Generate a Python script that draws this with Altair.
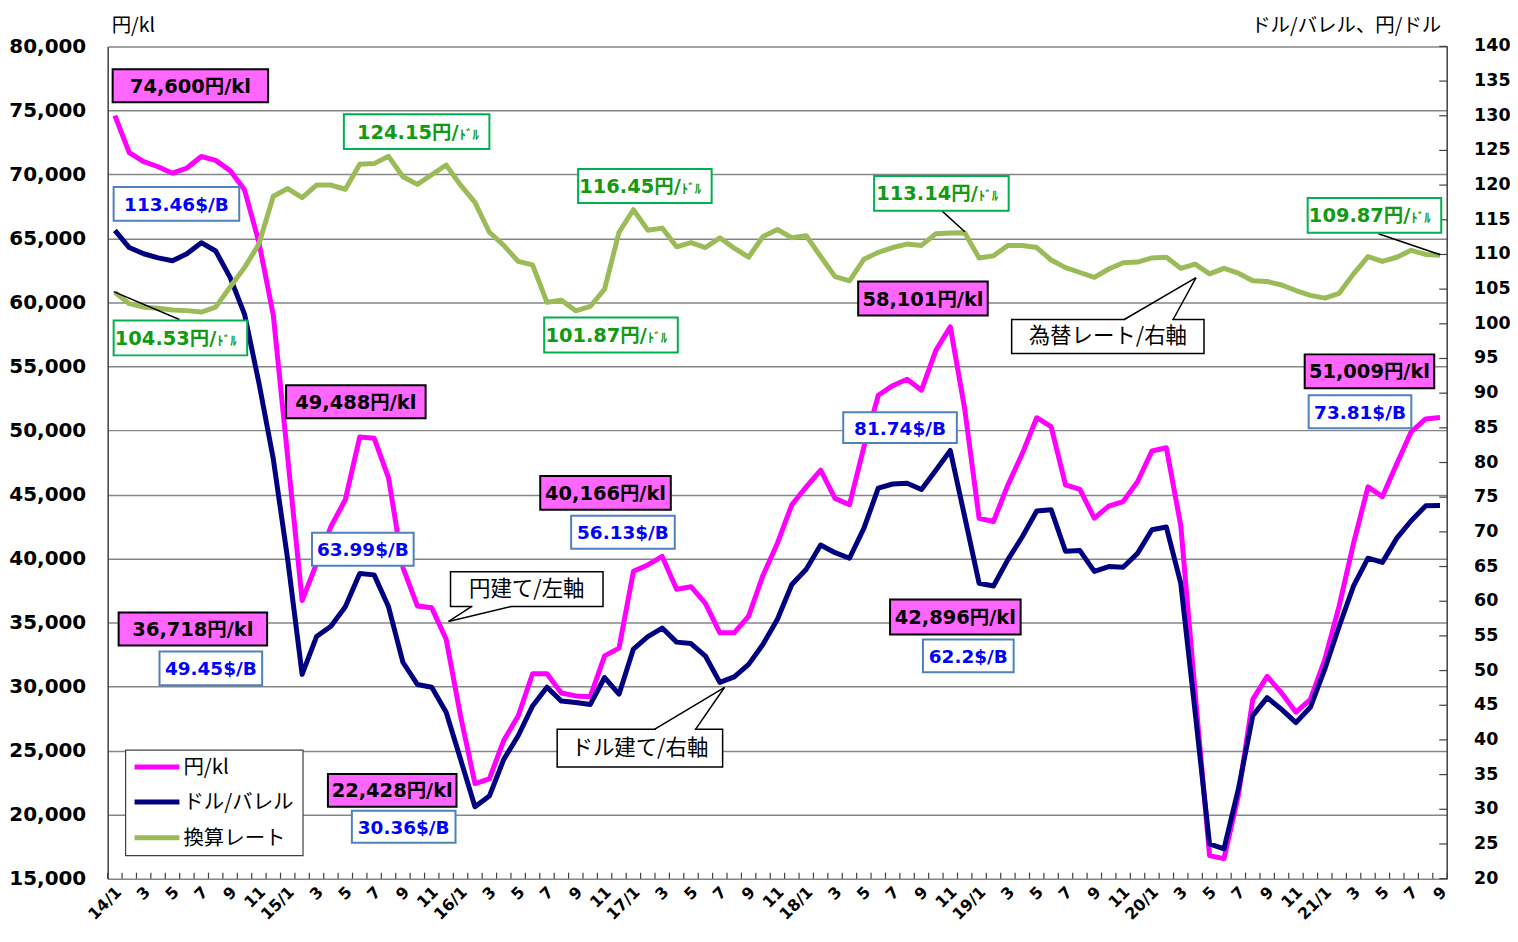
import altair as alt
import pandas as pd

# ---------------- data (monthly, 2014/1 .. 2021/9) ----------------
yen_per_kl = [
    74600, 71700, 71000, 70600, 70100, 70500, 71400, 71100, 70300, 68800, 64700, 59000,
    47900, 36718, 39600, 42500, 44600, 49488, 49400, 46300, 39300, 36300, 36150, 33700,
    27700, 22428, 22800, 25800, 27700, 31000, 31000, 29500, 29270, 29200, 32400, 33000,
    39000, 39500, 40166, 37600, 37800, 36500, 34200, 34200, 35500, 38700, 41200, 44200,
    45600, 46900, 44700, 44200, 48700, 52750, 53500, 54000, 53150, 56260, 58101, 51700,
    43150, 42896, 45750, 48200, 51000, 50300, 45750, 45400, 43150, 44100, 44450, 46000,
    48400, 48650, 42600, 29500, 16800, 16560, 21500, 29000, 30800, 29500, 28000, 29000,
    32100, 36300, 41200, 45600, 44840, 47400, 49900, 50900, 51009,
]
usd_per_bbl = [
    113.46, 111.0, 110.1, 109.5, 109.1, 110.1, 111.7, 110.5, 106.7, 101.4, 91.5, 80.5,
    66.0, 49.45, 54.9, 56.4, 59.2, 63.99, 63.8, 59.2, 51.2, 48.0, 47.6, 44.0,
    37.2, 30.36, 31.9, 37.2, 40.6, 44.9, 47.6, 45.6, 45.4, 45.1, 49.0, 46.6,
    53.1, 54.9, 56.13, 54.1, 53.9, 52.1, 48.3, 49.1, 50.9, 53.8, 57.4, 62.4,
    64.6, 68.1, 67.0, 66.2, 70.5, 76.3, 76.9, 77.0, 76.1, 78.9, 81.74, 72.2,
    62.6, 62.2, 66.0, 69.3, 73.0, 73.2, 67.2, 67.3, 64.3, 65.0, 64.9, 66.9,
    70.3, 70.7, 62.6, 44.0, 25.0, 24.3, 32.9, 43.5, 46.1, 44.4, 42.5, 44.7,
    50.2, 56.4, 62.2, 66.2, 65.6, 69.1, 71.6, 73.75, 73.81,
]
jpy_per_usd = [
    104.53, 102.9, 102.4, 102.25, 102.0, 101.9, 101.7, 102.4, 105.3, 108.1, 111.5, 118.4,
    119.5, 118.2, 120.0, 120.0, 119.4, 123.0, 123.1, 124.15, 121.2, 120.1, 121.5, 122.9,
    120.0, 117.5, 113.2, 111.3, 109.0, 108.5, 103.1, 103.4, 101.87, 102.5, 105.0, 113.2,
    116.45, 113.5, 113.8, 111.1, 111.7, 111.0, 112.4, 110.9, 109.6, 112.6, 113.6, 112.4,
    112.7, 109.7, 106.8, 106.2, 109.3, 110.3, 111.0, 111.5, 111.3, 113.0, 113.1, 113.14,
    109.5, 109.8, 111.3, 111.3, 111.0, 109.2, 108.1, 107.4, 106.7, 107.9, 108.8, 108.9,
    109.5, 109.6, 108.0, 108.6, 107.2, 108.0, 107.3, 106.2, 106.1, 105.6, 104.8, 104.1,
    103.7, 104.4, 107.2, 109.7, 109.0, 109.6, 110.6, 110.0, 109.87,
]
x_labels = [
    "14/1", "3", "5", "7", "9", "11",
    "15/1", "3", "5", "7", "9", "11",
    "16/1", "3", "5", "7", "9", "11",
    "17/1", "3", "5", "7", "9", "11",
    "18/1", "3", "5", "7", "9", "11",
    "19/1", "3", "5", "7", "9", "11",
    "20/1", "3", "5", "7", "9", "11",
    "21/1", "3", "5", "7", "9",
]
left_ticks = list(range(15000, 80001, 5000))
right_ticks = list(range(20, 141, 5))

n = len(yen_per_kl)
df = pd.DataFrame({"i": list(range(n)), "yen": yen_per_kl, "usd": usd_per_bbl, "fx": jpy_per_usd})

# ---------------- layout ----------------
W, H = 1344, 835
OX, OY = 108, 45           # page position of plot origin
FONT_NUM = "DejaVu Sans, Noto Sans CJK JP"
FONT_JP = "Noto Sans CJK JP, DejaVu Sans"

MAG = "#FF00FF"
NAVY = "#000080"
OLIVE = "#9BBB59"
GRID = "#868686"
DOMAIN = "#404040"

xscale = alt.Scale(domain=[-0.5, n - 0.5], nice=False, zero=False)
lscale = alt.Scale(domain=[15000, 80000], nice=False, zero=False)
rscale = alt.Scale(domain=[20, 140], nice=False, zero=False)

x_axis = alt.Axis(labels=False, ticks=False, grid=False, domainColor=DOMAIN, domainWidth=1.5, title=None)
left_axis = alt.Axis(
    orient="left", values=left_ticks, format=",.0f", grid=True, gridColor=GRID, gridWidth=1.5,
    ticks=False, domainColor=DOMAIN, domainWidth=1.5,
    labelFont=FONT_NUM, labelFontWeight="bold", labelFontSize=20, labelColor="black",
    labelPadding=22, title=None,
)

base = alt.Chart(df)

mag_line = base.mark_line(color=MAG, strokeWidth=5, strokeJoin="round").encode(
    x=alt.X("i:Q", scale=xscale, axis=x_axis),
    y=alt.Y("yen:Q", scale=lscale, axis=left_axis),
)
navy_line = base.mark_line(color=NAVY, strokeWidth=5, strokeJoin="round").encode(
    x=alt.X("i:Q", scale=xscale, axis=None),
    y=alt.Y("usd:Q", scale=rscale, axis=None),
)
olive_line = base.mark_line(color=OLIVE, strokeWidth=5, strokeJoin="round").encode(
    x=alt.X("i:Q", scale=xscale, axis=None),
    y=alt.Y("fx:Q", scale=rscale, axis=None),
)

# x axis: monthly ticks at band boundaries + rotated labels every 2 months
tick_df = pd.DataFrame({"b": [k - 0.5 for k in range(n + 1)]})
x_ticks = alt.Chart(tick_df).mark_rule(color=DOMAIN, strokeWidth=1.2).encode(
    x=alt.X("b:Q", scale=xscale, axis=None),
    y=alt.value(H - 6), y2=alt.value(H),
)
xlab_df = pd.DataFrame({"i": list(range(0, n, 2)), "lab": x_labels})
x_text = alt.Chart(xlab_df).mark_text(
    angle=315, align="right", baseline="middle", dx=2.8, dy=2.8,
    font=FONT_NUM, fontWeight="bold", fontSize=16, color="black",
).encode(
    x=alt.X("i:Q", scale=xscale, axis=None),
    y=alt.value(H + 11),
    text="lab:N",
)

# right axis: domain line, inward ticks and labels through the right-hand scale
rt_df = pd.DataFrame({"v": right_ticks, "lab": [str(v) for v in right_ticks]})
r_ticks = alt.Chart(rt_df).mark_rule(color=DOMAIN, strokeWidth=1.2).encode(
    y=alt.Y("v:Q", scale=rscale, axis=None),
    x=alt.value(W - 8), x2=alt.value(W),
)
r_text = alt.Chart(rt_df).mark_text(
    align="left", baseline="middle", font=FONT_NUM, fontWeight="bold", fontSize=17.5, color="black",
).encode(
    y=alt.Y("v:Q", scale=rscale, axis=None),
    x=alt.value(W + 27),
    text="lab:N",
)

# ---------------- annotations (page pixel layout) ----------------
one = pd.DataFrame({"t": [""]})


def box(x1, y1, x2, y2, fill, stroke, sw=2):
    return alt.Chart(one).mark_rect(fill=fill, stroke=stroke, strokeWidth=sw).encode(
        x=alt.value(x1 - OX), x2=alt.value(x2 - OX), y=alt.value(y1 - OY), y2=alt.value(y2 - OY))


def txt(s, x, y, size, color, weight="bold", align="center", baseline="middle", font=FONT_NUM):
    return alt.Chart(pd.DataFrame({"t": [s]})).mark_text(
        fontSize=size, color=color, fontWeight=weight, align=align, baseline=baseline, font=font
    ).encode(x=alt.value(x - OX), y=alt.value(y - OY), text="t:N")


def seg(x1, y1, x2, y2, color="black", sw=1.5):
    return alt.Chart(one).mark_rule(color=color, strokeWidth=sw).encode(
        x=alt.value(x1 - OX), x2=alt.value(x2 - OX), y=alt.value(y1 - OY), y2=alt.value(y2 - OY))


ann = [seg(W + OX, OY, W + OX, H + OY, DOMAIN, 1.5)]

yen_notes = [
    ("74,600円/kl", 113, 68, 269, 101),
    ("49,488円/kl", 287, 385, 427, 418),
    ("36,718円/kl", 119, 613, 268, 646),
    ("22,428円/kl", 329, 775, 458, 808),
    ("40,166円/kl", 542, 476, 673, 510),
    ("58,101円/kl", 861, 281, 991, 315),
    ("42,896円/kl", 893, 600, 1024, 635),
    ("51,009円/kl", 1309, 354, 1439, 388),
]
for s, x1, y1, x2, y2 in yen_notes:
    ann.append(box(x1, y1, x2, y2, "#FF66FF", "black"))
    ann.append(txt(s, (x1 + x2) / 2, (y1 + y2) / 2 + 1, 19.5, "black"))

usd_notes = [
    ("113.46$/B", 114, 186, 240, 220),
    ("63.99$/B", 313, 533, 415, 566),
    ("49.45$/B", 160, 652, 263, 686),
    ("30.36$/B", 353, 812, 457, 844),
    ("56.13$/B", 573, 516, 677, 549),
    ("81.74$/B", 846, 412, 960, 443),
    ("62.2$/B", 926, 640, 1017, 673),
    ("73.81$/B", 1313, 395, 1416, 428),
]
for s, x1, y1, x2, y2 in usd_notes:
    ann.append(box(x1, y1, x2, y2, "white", "#4F81BD"))
    ann.append(txt(s, (x1 + x2) / 2, (y1 + y2) / 2 + 1, 18.5, "#0000FF"))

# leader lines for the exchange-rate notes
ann.append(seg(114, 291, 180, 319))
ann.append(seg(945, 210, 968, 231))
ann.append(seg(1383, 233, 1445, 254))

fx_notes = [
    ("104.53円/", 114, 320, 248, 355),
    ("124.15円/", 345, 113, 491, 148),
    ("116.45円/", 580, 168, 714, 202),
    ("101.87円/", 546, 317, 680, 352),
    ("113.14円/", 877, 175, 1012, 210),
    ("109.87円/", 1312, 197, 1446, 232),
]
for s, x1, y1, x2, y2 in fx_notes:
    ann.append(box(x1, y1, x2, y2, "white", "#00B050"))
    ann.append(txt(s, x2 - 31, (y1 + y2) / 2 + 1, 19.5, "#129A12", align="right"))
    ann.append(txt("ﾄﾞﾙ", x2 - 30, (y1 + y2) / 2 + 3, 13, "#129A12", align="left"))

# callouts with pointer tails
callouts = [
    ("円建て/左軸", 452, 572, 605, 607, (473, 607), (513, 607), (450, 622)),
    ("ドル建て/右軸", 559, 730, 725, 768, (657, 730), (698, 730), (727, 688)),
    ("為替レート/右軸", 1015, 319, 1208, 353, (1128, 319), (1177, 319), (1200, 277)),
]
for s, x1, y1, x2, y2, b1, b2, tip in callouts:
    ann.append(box(x1, y1, x2, y2, "white", "black", 1.5))
    ann.append(seg(b1[0] + 1, b1[1], b2[0] - 1, b2[1], "white", 3))
    ann.append(seg(b1[0], b1[1], tip[0], tip[1]))
    ann.append(seg(b2[0], b2[1], tip[0], tip[1]))
    ann.append(txt(s, (x1 + x2) / 2, (y1 + y2) / 2 + 1, 21.5, "black", weight="normal", font=FONT_JP))

# legend
ann.append(box(126, 751, 304, 857, "white", "#404040", 1.2))
legend_items = [("円/kl", MAG, 768), ("ドル/バレル", NAVY, 803), ("換算レート", OLIVE, 839)]
for s, c, yy in legend_items:
    ann.append(seg(135, yy, 180, yy, c, 5))
    ann.append(txt(s, 184, yy + 1, 20.5, "black", weight="normal", align="left", font=FONT_JP))

# axis titles
ann.append(txt("円/kl", 112, 25, 19.5, "black", weight="normal", align="left", font=FONT_JP))
ann.append(txt("ドル/バレル、円/ドル", 1446, 25, 19.5, "black", weight="normal", align="right", font=FONT_JP))

chart = alt.layer(
    mag_line, navy_line, olive_line, x_ticks, x_text, r_ticks, r_text, *ann
).resolve_scale(
    y="independent"
).properties(
    width=W, height=H,
    padding={"left": OX - 8, "top": OY - 8, "right": 63, "bottom": 47},
    autosize=alt.AutoSizeParams(type="none"),
    background="white",
).configure_view(stroke=None)

chart.save("out.html", embed_options={"renderer": "svg", "actions": False})
